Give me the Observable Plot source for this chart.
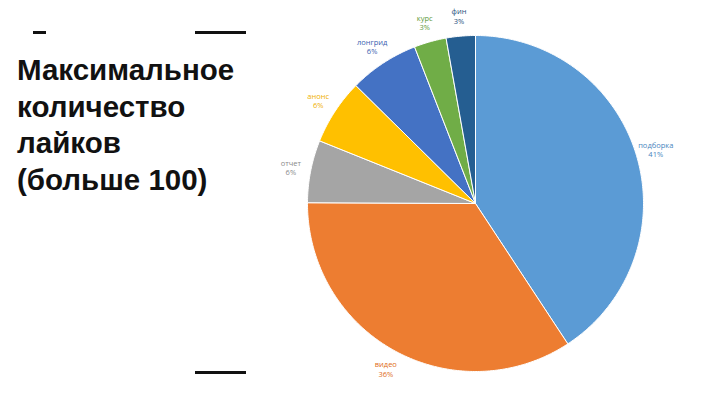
<!DOCTYPE html>
<html><head><meta charset="utf-8">
<script src="https://cdn.jsdelivr.net/npm/d3@7"></script>
<script src="https://cdn.jsdelivr.net/npm/@observablehq/plot@0.6"></script>
<style>
body{margin:0;background:#fff;}
#wrap{position:relative;width:720px;height:405px;overflow:hidden;}
#title{position:absolute;left:17px;top:52px;font-family:"Liberation Sans",Arial,sans-serif;font-weight:bold;font-size:29.5px;line-height:36.5px;color:#111;}
.rule{position:absolute;height:3px;background:#111;}
</style></head>
<body><div id="wrap">
<div id="chart"></div>
<div id="title">Максимальное<br>количество<br>лайков<br>(больше 100)</div>
<div class="rule" style="left:33px;top:31px;width:13px;"></div>
<div class="rule" style="left:195px;top:31px;width:51px;"></div>
<div class="rule" style="left:195px;top:371px;width:51px;"></div>
</div>
<script>
const categories = ["подборка","видео","отчет","анонс","лонгрид","курс","фин"];
const shares = [40.7, 34.3, 6.0, 6.3, 6.7, 3.1, 2.8];
const labels = ["41%","36%","6%","6%","6%","3%","3%"];
const colors = ["#5B9BD5","#ED7D31","#A5A5A5","#FFC000","#4472C4","#70AD47","#255E91"];
const labelColors = ["#4a86c0","#e06c20","#8a8a8a","#f0b000","#3a62b0","#5e9a3a","#1f4f7c"];

const pie = d3.pie().sort(null).value(d => d)(shares);
const pts = [];
const lab = [];
pie.forEach((s, i) => {
  pts.push({cat: categories[i], x: 0, y: 0});
  const n = Math.max(4, Math.ceil((s.endAngle - s.startAngle) / 0.01));
  for (let k = 0; k <= n; k++) {
    const a = s.startAngle + (s.endAngle - s.startAngle) * k / n;
    pts.push({cat: categories[i], x: Math.sin(a), y: Math.cos(a)});
  }
  pts.push({cat: categories[i], x: 0, y: 0});
  const m = (s.startAngle + s.endAngle) / 2;
  const r = 1.12;
  lab.push({cat: categories[i], x: Math.sin(m) * r, y: Math.cos(m) * r, text: categories[i] + "\n" + labels[i]});
});

const chart = Plot.plot({
  width: 720, height: 405,
  marginLeft: 307, marginRight: 77, marginTop: 35, marginBottom: 34,
  x: {domain: [-1, 1], axis: null},
  y: {domain: [-1, 1], axis: null},
  color: {domain: categories, range: colors},
  style: {fontFamily: "'Open Sans', sans-serif"},
  marks: [
    Plot.line(pts, {x: "x", y: "y", z: "cat", fill: "cat", stroke: "white", strokeWidth: 1, curve: "linear"}),
    Plot.text(lab, {x: "x", y: "y", text: "text", fill: d => labelColors[categories.indexOf(d.cat)], fontSize: 7.5, lineHeight: 1.25})
  ]
});
document.getElementById("chart").appendChild(chart);
</script>
</body></html>
